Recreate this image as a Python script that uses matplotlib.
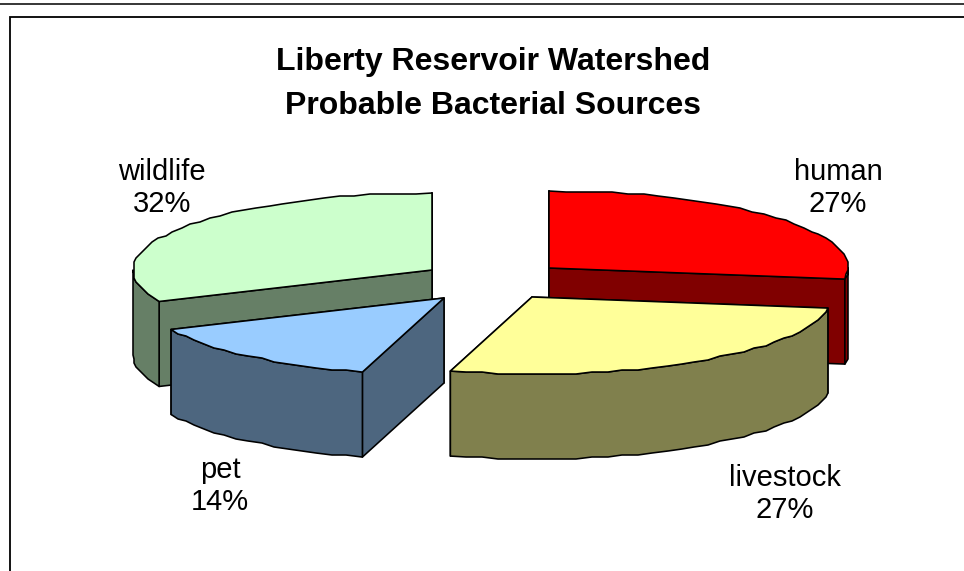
import numpy as np
import matplotlib
matplotlib.use("Agg")
import matplotlib.pyplot as plt
from matplotlib.patches import Polygon

plt.rcParams['font.family'] = ['Liberation Sans', 'DejaVu Sans']

categories = ["human", "livestock", "pet", "wildlife"]
shares = [27.3, 27.1, 13.9, 31.7]
tops = ["#FF0000", "#FFFF99", "#99CCFF", "#CCFFCC"]
sides = ["#800000", "#80804D", "#4D667F", "#667F66"]

# layout in pixels
W, H = 964, 571
RX, RY, DEPTH = 299, 77, 85
apex = {"human": (549, 268), "livestock": (532, 297), "pet": (444, 298), "wildlife": (432, 270)}
label_xy = {"human": (838, 188), "livestock": (785, 494), "pet": (220, 486), "wildlife": (162, 188)}
draw_order = ["wildlife", "human", "pet", "livestock"]

fig = plt.figure(figsize=(W / 100, H / 100), dpi=100)
ax = fig.add_axes([0, 0, 1, 1])
ax.set_xlim(0, W)
ax.set_ylim(H, 0)
ax.axis("off")

LW = 1.15
ax.plot([0, W], [4, 4], color="black", lw=1.1, solid_capstyle="butt")
ax.plot([W, 10, 10], [17, 17, H], color="black", lw=1.3, solid_joinstyle="miter", solid_capstyle="butt")

cum = np.cumsum([0] + shares) / sum(shares) * 360


def rim(cx, cy, a0, a1, step=3.0, grid=2.0):
    n = max(int((a1 - a0) / step), 1) + 1
    t = np.radians(np.linspace(a0, a1, n))
    pts = np.column_stack([cx + RX * np.sin(t), cy - RY * np.cos(t)])
    # stepped outline of the low-resolution original, ends kept exact
    if n > 2:
        pts[1:-1] = np.round(pts[1:-1] / grid) * grid
    return pts


def edge(cx, cy, a):
    t = np.radians(a)
    return np.array([cx + RX * np.sin(t), cy - RY * np.cos(t)])


def poly(pts, color, z):
    ax.add_patch(Polygon(pts, closed=True, facecolor=color, edgecolor="black",
                         lw=LW, joinstyle="round", zorder=z))


for z, name in enumerate(draw_order):
    i = categories.index(name)
    a0, a1 = cum[i], cum[i + 1]
    cx, cy = apex[name]
    base = z * 10 + 1
    # cut faces, farther one first
    ends = sorted((edge(cx, cy, a) for a in (a0, a1)), key=lambda e: e[1])
    for e in ends:
        poly([(cx, cy), e, (e[0], e[1] + DEPTH), (cx, cy + DEPTH)], sides[i], base)
    # visible outer wall
    lo, hi = max(a0, 90), min(a1, 270)
    if hi > lo:
        r = rim(cx, cy, lo, hi)
        poly(np.vstack([r, (r + [0, DEPTH])[::-1]]), sides[i], base + 1)
    # top
    poly(np.vstack([[(cx, cy)], rim(cx, cy, a0, a1)]), tops[i], base + 2)
    lx, ly = label_xy[name]
    ax.text(lx, ly, f"{name}\n{round(shares[i])}%", ha="center", va="center", fontsize=21,
            linespacing=1.22, color="black", zorder=100)

ax.text(493, 84, "Liberty Reservoir Watershed\nProbable Bacterial Sources", ha="center", va="center",
        fontsize=23, fontweight="bold", linespacing=1.65, color="black", zorder=100)

fig.savefig("out.png", dpi=100, facecolor="white")
